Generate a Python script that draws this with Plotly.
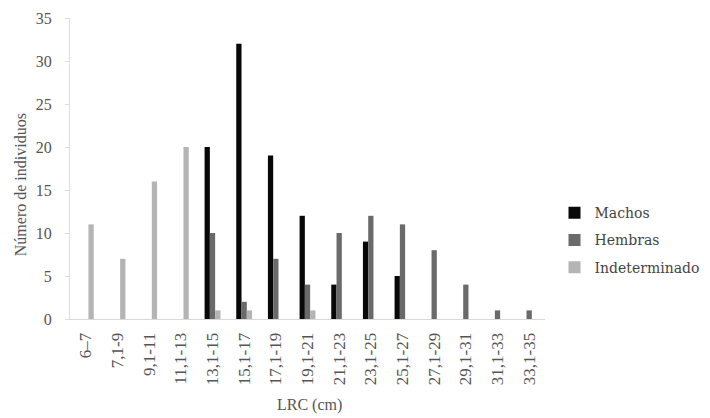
import plotly.graph_objects as go

categories = ["6–7", "7,1-9", "9,1-11", "11,1-13", "13,1-15", "15,1-17", "17,1-19",
              "19,1-21", "21,1-23", "23,1-25", "25,1-27", "27,1-29", "29,1-31",
              "31,1-33", "33,1-35"]
machos = [0, 0, 0, 0, 20, 32, 19, 12, 4, 9, 5, 0, 0, 0, 0]
hembras = [0, 0, 0, 0, 10, 2, 7, 4, 10, 12, 11, 8, 4, 1, 1]
indeterminado = [11, 7, 16, 20, 1, 1, 0, 1, 0, 0, 0, 0, 0, 0, 0]

font_family = "Liberation Serif"
legend_family = "DejaVu Serif"

fig = go.Figure()
for name, vals, color in [("Machos", machos, "#080808"),
                          ("Hembras", hembras, "#6a6a6a"),
                          ("Indeterminado", indeterminado, "#b4b4b4")]:
    fig.add_trace(go.Bar(x=categories, y=vals, name=name, marker_color=color,
                         marker_line_width=0, legendgroup=name))

# page body adds ~8px margin; figure is sized to compensate
fig.update_layout(
    width=702, height=410,
    margin=dict(l=62, r=165, t=10, b=99, autoexpand=False),
    paper_bgcolor="white", plot_bgcolor="white",
    barmode="group", bargap=0.5, bargroupgap=0,
    font=dict(family=font_family, size=15, color="#555555"),
    showlegend=True,
    legend=dict(x=1.02, y=0.262, xanchor="left", yanchor="middle",
                traceorder="grouped", tracegroupgap=6, itemwidth=30,
                font=dict(family=legend_family, size=14, color="#444444")),
    annotations=[
        dict(text="Número de individuos", xref="paper", yref="paper",
             x=-0.105, y=0.445, xanchor="center", yanchor="middle",
             textangle=-90, showarrow=False,
             font=dict(family=font_family, size=16, color="#555555")),
        dict(text="LRC (cm)", xref="paper", yref="paper",
             x=0.505, y=-0.285, xanchor="center", yanchor="middle",
             showarrow=False,
             font=dict(family=font_family, size=16, color="#555555")),
    ],
)
fig.update_xaxes(
    type="category", tickangle=-90, showgrid=False, automargin=False,
    showline=True, linecolor="#d9d9d9", linewidth=1,
    ticks="", ticklabelstandoff=6,
    tickfont=dict(family=font_family, size=17, color="#555555"),
)
fig.update_yaxes(
    range=[0, 35], dtick=5, showgrid=False, zeroline=False, automargin=False,
    showline=True, linecolor="#dddddd", linewidth=1,
    ticks="outside", ticklen=4, tickcolor="#dddddd", ticklabelstandoff=10,
    tickfont=dict(family=font_family, size=16, color="#555555"),
)

fig.write_html("out.html")
